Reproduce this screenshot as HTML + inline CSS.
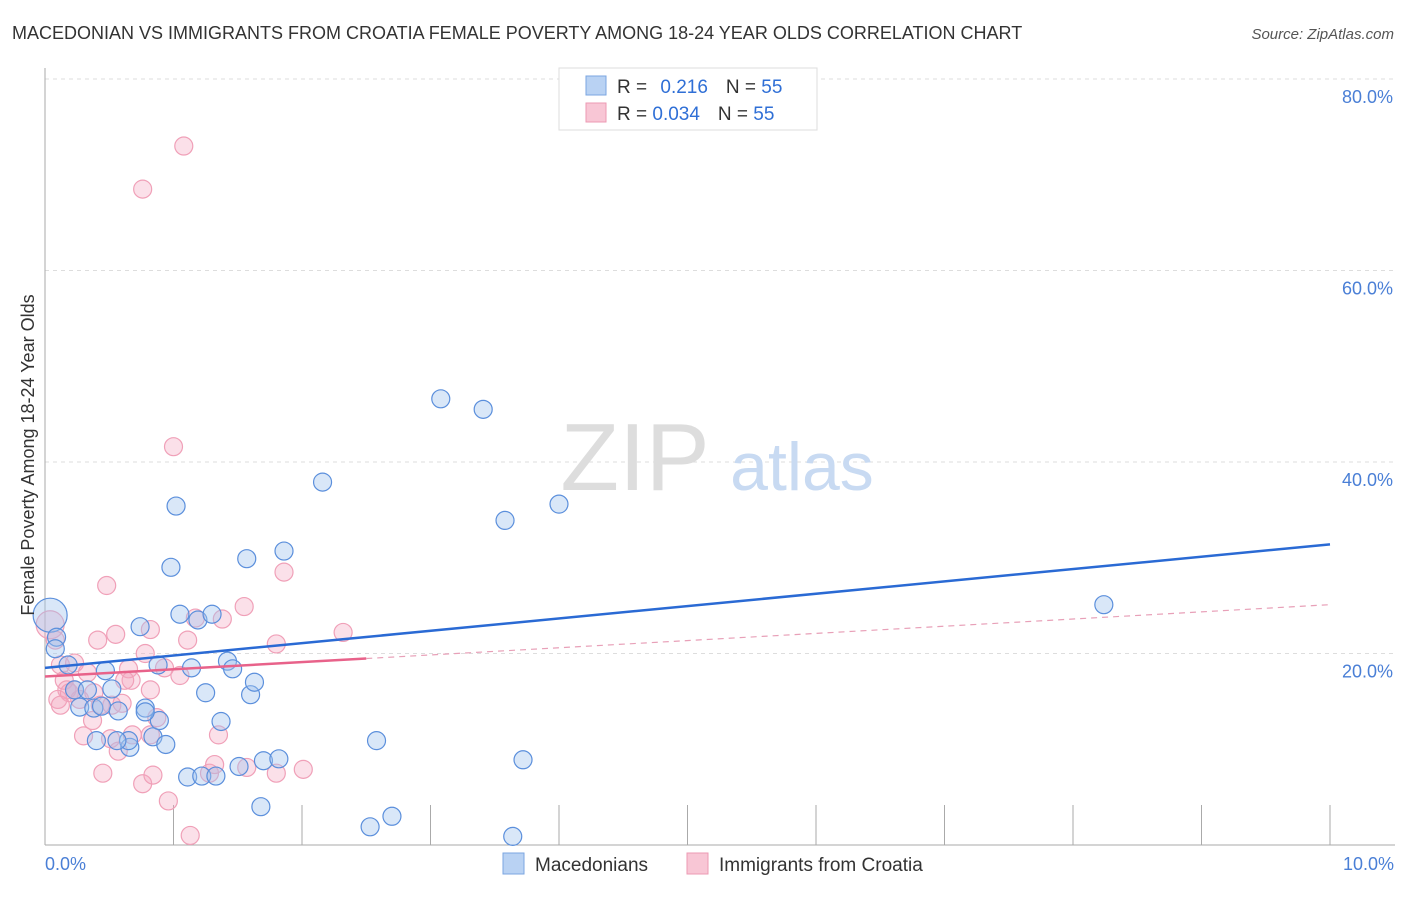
<!DOCTYPE html>
<html><head><meta charset="utf-8"><style>
body{margin:0;background:#fff;font-family:"Liberation Sans",sans-serif;}
svg text{font-family:"Liberation Sans",sans-serif;}
</style></head><body>
<svg width="1406" height="892" viewBox="0 0 1406 892" xmlns="http://www.w3.org/2000/svg">
<text x="12" y="39" font-size="18" fill="#333">MACEDONIAN VS IMMIGRANTS FROM CROATIA FEMALE POVERTY AMONG 18-24 YEAR OLDS CORRELATION CHART</text>
<text x="1394" y="39" font-size="15" fill="#555" font-style="italic" text-anchor="end">Source: ZipAtlas.com</text>
<g id="grid"></g>
<text x="635" y="490" font-size="96" fill="#ddd" font-family="Liberation Serif" text-anchor="middle">ZIP</text>
<text x="802" y="490" font-size="68" fill="#c8daf2" text-anchor="middle">atlas</text>
<g id="pts"></g>
<g id="lines"></g>
<text transform="translate(34,455) rotate(-90)" font-size="18" fill="#333" text-anchor="middle">Female Poverty Among 18-24 Year Olds</text>
<text x="45" y="870" font-size="18" fill="#4a7fd6">0.0%</text>
<text x="1394" y="870" font-size="18" fill="#4a7fd6" text-anchor="end">10.0%</text>
<g>
<rect x="559" y="68" width="258" height="62" fill="#fff" stroke="#ddd"/>
<rect x="586" y="76" width="20" height="19" fill="#b9d2f3" stroke="#7ba6e0"/>
<rect x="586" y="103" width="20" height="19" fill="#f8c6d5" stroke="#ec9ab3"/>
<text x="617" y="93" font-size="19" fill="#333">R = <tspan fill="#2f6fd6" dx="8">0.216</tspan><tspan dx="18" fill="#333">N = </tspan><tspan fill="#2f6fd6">55</tspan></text>
<text x="617" y="120" font-size="19" fill="#333">R = <tspan fill="#2f6fd6">0.034</tspan><tspan dx="18" fill="#333">N = </tspan><tspan fill="#2f6fd6">55</tspan></text>
</g>
<g>
<rect x="503" y="853" width="21" height="21" fill="#b9d2f3" stroke="#7ba6e0"/>
<text x="535" y="871" font-size="19" fill="#333">Macedonians</text>
<rect x="687" y="853" width="21" height="21" fill="#f8c6d5" stroke="#ec9ab3"/>
<text x="719" y="871" font-size="19" fill="#333">Immigrants from Croatia</text>
</g>
</svg>
<script>
const yTicks=[20,40,60,80];
const yTickLabels=["20.0%","40.0%","60.0%","80.0%"];
const xTicks=[0,1,2,3,4,5,6,7,8,9,10];
const blueX=[0.04,0.09,0.08,0.18,0.23,0.33,0.27,0.38,0.44,0.40,0.47,0.52,0.57,0.66,0.65,0.74,0.78,0.84,0.88,0.94,0.98,1.02,1.05,1.14,1.19,1.30,1.25,1.37,1.42,1.46,1.60,1.63,1.57,1.86,2.16,3.08,3.41,3.58,4.00,8.24,1.11,1.22,1.33,1.51,1.70,1.82,1.68,2.53,2.70,2.58,3.64,3.72,0.56,0.89,0.78];
const blueY=[24.0,21.7,20.5,18.8,16.2,16.2,14.4,14.3,14.5,10.9,18.2,16.3,14.0,10.2,10.9,22.8,14.3,11.3,18.8,10.5,29.0,35.4,24.1,18.5,23.5,24.1,15.9,12.9,19.2,18.4,15.7,17.0,29.9,30.7,37.9,46.6,45.5,33.9,35.6,25.1,7.1,7.2,7.2,8.2,8.8,9.0,4.0,1.9,3.0,10.9,0.9,8.9,10.9,13.0,13.9];
const pinkX=[1.08,0.76,1.00,0.48,1.86,1.55,2.32,1.80,1.38,1.17,1.11,0.82,0.55,0.41,0.04,0.08,0.12,0.23,0.33,0.15,0.17,0.10,0.27,0.38,0.65,0.67,0.78,0.93,0.60,0.37,0.30,0.51,0.57,0.68,0.82,0.87,0.45,0.76,0.84,0.96,1.13,1.28,1.32,1.35,1.57,1.80,2.01,0.43,0.19,0.52,0.62,0.12,0.82,1.05,0.23];
const pinkY=[73.0,68.5,41.6,27.1,28.5,24.9,22.2,21.0,23.6,23.7,21.4,22.5,22.0,21.4,23.0,21.4,18.8,19.0,18.0,17.2,16.2,15.2,15.2,15.9,18.4,17.2,20.0,18.5,14.8,13.0,11.4,11.1,9.8,11.5,11.5,13.3,7.5,6.4,7.3,4.6,1.0,7.5,8.4,11.5,8.1,7.5,7.9,14.6,15.9,14.6,17.2,14.6,16.2,17.7,16.2];
const blueTrend=[18.5,31.4];
const pinkTrend=[17.6,25.1];
const NS="http://www.w3.org/2000/svg";
const X0=45,X1=1330,YB=845,YT=79;
const sx=v=>X0+(X1-X0)*v/10;
const sy=v=>YB-(YB-YT)*v/80;
function mk(tag,attrs,parent){const e=document.createElementNS(NS,tag);for(const k in attrs)e.setAttribute(k,attrs[k]);parent.appendChild(e);return e;}
const grid=document.getElementById('grid');
yTicks.forEach((t,i)=>{
 const l=mk('line',{x1:X0,x2:1395,y1:sy(t),y2:sy(t),stroke:'#ddd','stroke-dasharray':'4,4'},grid);
 
 
 const tx=mk('text',{x:1393,y:sy(t)+24,'font-size':18,fill:'#4a7fd6','text-anchor':'end'},grid);
 tx.textContent=yTickLabels[i];
 
 
});
const ax=mk('line',{x1:X0,x2:X0,y1:68,y2:YB,stroke:'#aaa'},grid);


const bx=mk('line',{x1:X0,x2:1395,y1:YB,y2:YB,stroke:'#aaa'},grid);


xTicks.forEach(t=>{
 const l=mk('line',{x1:sx(t),x2:sx(t),y1:805,y2:YB,stroke:'#aaa'},grid);
 
 
});
const pts=document.getElementById('pts');
pinkX.forEach((x,i)=>{
 const c=mk('circle',{cx:sx(x),cy:sy(pinkY[i]),r:i==14?14:9,fill:'rgba(244,166,192,0.35)',stroke:'#f0a0b8','stroke-width':1.2},pts);
 
 
});
blueX.forEach((x,i)=>{
 const c=mk('circle',{cx:sx(x),cy:sy(blueY[i]),r:i==0?17:9,fill:'rgba(160,195,238,0.4)',stroke:'#5b8fdc','stroke-width':1.2},pts);
 
 
});
const lines=document.getElementById('lines');
const bl=mk('line',{x1:sx(0),y1:sy(blueTrend[0]),x2:sx(10),y2:sy(blueTrend[1]),stroke:'#2a6ad4','stroke-width':2.5},lines);


const pAt=v=>pinkTrend[0]+(pinkTrend[1]-pinkTrend[0])*v/10;
const pl=mk('line',{x1:sx(0),y1:sy(pAt(0)),x2:sx(2.5),y2:sy(pAt(2.5)),stroke:'#e8628a','stroke-width':2.5},lines);


const pd=mk('line',{x1:sx(2.5),y1:sy(pAt(2.5)),x2:sx(10),y2:sy(pAt(10)),stroke:'#e8a0b8','stroke-width':1.2,'stroke-dasharray':'6,5'},lines);


</script>
</body></html>
